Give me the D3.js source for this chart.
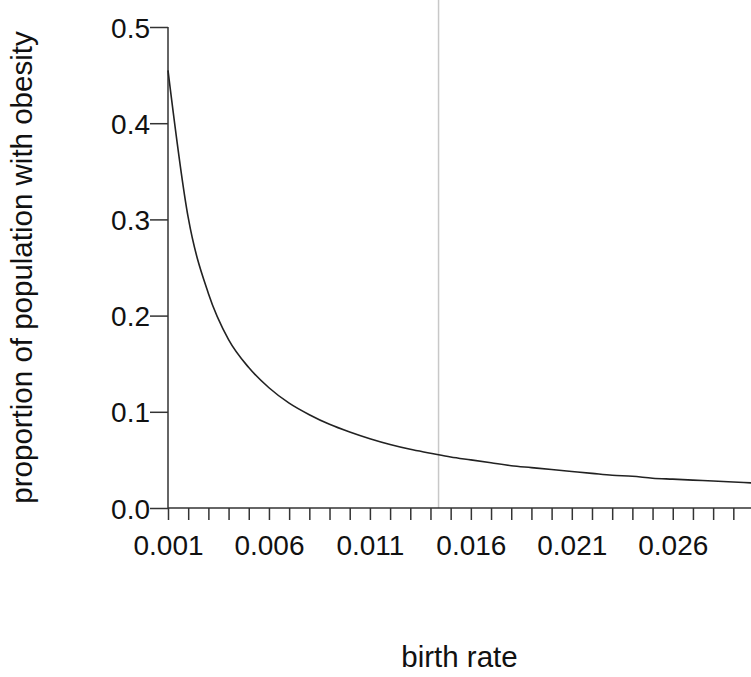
<!DOCTYPE html>
<html>
<head>
<meta charset="utf-8">
<script src="https://cdn.jsdelivr.net/npm/d3@7"></script>
<style>
  html, body { margin: 0; padding: 0; background: #fff; }
  svg { display: block; }
  text { font-family: "Liberation Sans", Arial, sans-serif; fill: #111; }
</style>
</head>
<body>
<div id="chart"></div>
<script>
// ---- data ----
const birthRate = [0.001,0.002,0.003,0.004,0.005,0.006,0.007,0.008,0.009,0.010,
                   0.011,0.012,0.013,0.014,0.015,0.016,0.017,0.018,0.019,0.020,
                   0.021,0.022,0.023,0.024,0.025,0.026,0.027,0.028,0.029,0.030,0.031];
const obesity   = [0.455,0.302,0.223,0.175,0.146,0.125,0.109,0.097,0.087,0.079,
                   0.072,0.066,0.061,0.057,0.053,0.050,0.047,0.044,0.042,0.040,
                   0.038,0.036,0.034,0.033,0.031,0.030,0.029,0.028,0.027,0.026,0.025];
const xTickValues = d3.range(1, 32).map(k => k / 1000);
const xTickLabels = ["0.001","0.006","0.011","0.016","0.021","0.026"];
const yTickValues = [0, 0.1, 0.2, 0.3, 0.4, 0.5];
const yTickLabels = ["0.0","0.1","0.2","0.3","0.4","0.5"];
const markerRate = 0.0144;
const xTitle = "birth rate";
const yTitle = "proportion of population with obesity";

// ---- layout ----
const W = 751, H = 677;
const x0 = 168, pxPerStep = 20.19;
const x = d3.scaleLinear().domain([0.001, 0.031]).range([x0, x0 + 30 * pxPerStep]);
const y = d3.scaleLinear().domain([0, 0.5]).range([508, 27]);
const fs = 28, fsTitle = 29.5;

const svg = d3.select("#chart").append("svg").attr("width", W).attr("height", H);

// vertical marker line
svg.append("line")
  .attr("x1", x(markerRate)).attr("x2", x(markerRate))
  .attr("y1", 0).attr("y2", y(0))
  .attr("stroke", "#c8c8c8").attr("stroke-width", 1.5);

// x axis
const xAxis = d3.axisBottom(x).tickValues(xTickValues).tickSize(12)
  .tickFormat(d => { const s = d3.format(".3f")(d); return xTickLabels.includes(s) ? s : ""; });
const gx = svg.append("g").attr("transform", `translate(0,${y(0)})`).call(xAxis);
gx.select(".domain").attr("stroke", "#333").attr("stroke-width", 1.5).attr("d", `M${x0},0H${W + 40}`);
gx.selectAll(".tick line").attr("stroke", "#333").attr("stroke-width", 1.5);
gx.selectAll(".tick text").attr("font-size", fs).attr("y", 27).attr("dy", "0.71em")
  .style("font-family", '"Liberation Sans", Arial, sans-serif').attr("fill", "#111");

// y axis
const yAxis = d3.axisLeft(y).tickValues(yTickValues).tickSize(18)
  .tickFormat((d, i) => yTickLabels[i]);
const gy = svg.append("g").attr("transform", `translate(${x0},0)`).call(yAxis);
gy.select(".domain").attr("stroke", "#333").attr("stroke-width", 1.5).attr("d", `M0,${y(0.5)}V${y(0)}`);
gy.selectAll(".tick line").attr("stroke", "#333").attr("stroke-width", 1.5);
gy.selectAll(".tick text").attr("font-size", fs).attr("x", -18).attr("dy", "0.36em")
  .style("font-family", '"Liberation Sans", Arial, sans-serif').attr("fill", "#111");

// curve
const pts = birthRate.map((b, i) => [b, obesity[i]]);
svg.append("path")
  .datum(pts)
  .attr("fill", "none").attr("stroke", "#222").attr("stroke-width", 1.6)
  .attr("d", d3.line().x(d => x(d[0])).y(d => y(d[1])).curve(d3.curveMonotoneX));

// titles
svg.append("text").attr("x", (x0 + W) / 2).attr("y", 667).attr("text-anchor", "middle")
  .attr("font-size", fsTitle).text(xTitle);
svg.append("text").attr("transform", `translate(32,${(y(0) + y(0.5)) / 2}) rotate(-90)`)
  .attr("text-anchor", "middle").attr("font-size", fsTitle).text(yTitle);
</script>
</body>
</html>
